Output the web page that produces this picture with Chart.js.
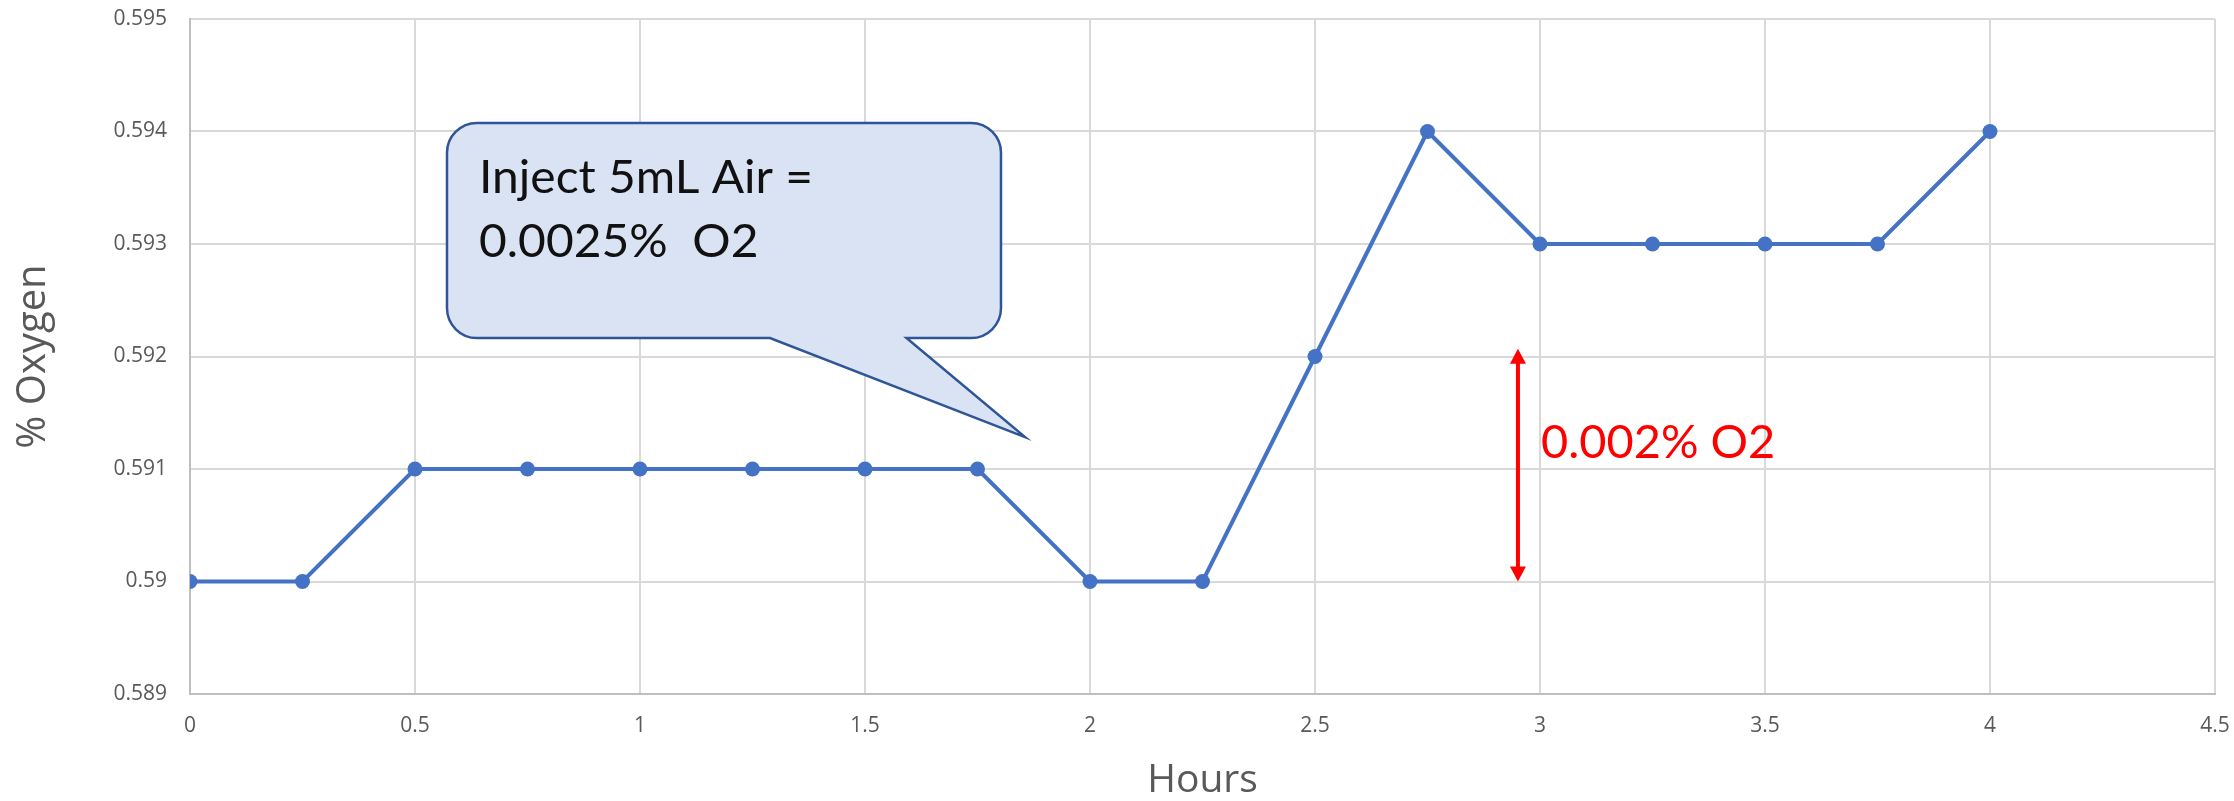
<!DOCTYPE html>
<html>
<head>
<meta charset="utf-8">
<script src="https://cdn.jsdelivr.net/npm/chart.js@4.4.1/dist/chart.umd.min.js"></script>
<style>
  html, body { margin: 0; padding: 0; background: #ffffff; }
  #wrap { width: 2234px; height: 801px; position: relative; }
</style>
</head>
<body>
<div id="wrap"><canvas id="chart"></canvas></div>
<script>
// Oxygen readings every quarter hour
const hours  = [0, 0.25, 0.5, 0.75, 1, 1.25, 1.5, 1.75, 2, 2.25, 2.5, 2.75, 3, 3.25, 3.5, 3.75, 4];
const oxygen = [0.590, 0.590, 0.591, 0.591, 0.591, 0.591, 0.591, 0.591, 0.590, 0.590, 0.592, 0.594, 0.593, 0.593, 0.593, 0.593, 0.594];

// Axis ranges / tick steps
const xRange = [0, 4.5];
const xStep = 0.5;
const yRange = [0.589, 0.595];
const yStep = 0.001;

// Annotations (data units)
const calloutLines = ['Inject 5mL Air =', '0.0025%  O2'];
const calloutBox = { x0: 0.5711, x1: 1.8022, y0: 0.594076, y1: 0.592164 };
const calloutTail = { baseLeft: 1.2889, baseRight: 1.5922, tipX: 1.8556, tipY: 0.591284 };
const spanLabel = '0.002% O2';
const spanAt = { x: 2.951, from: 0.5900, to: 0.59207 };

// Draws text with a horizontal scale factor
function scaledText(ctx, text, x, y, sx) {
  ctx.save();
  ctx.translate(x, y);
  ctx.scale(sx, 1);
  ctx.fillText(text, 0, 0);
  ctx.restore();
}

const annotations = {
  id: 'annotations',
  afterDatasetsDraw(chart) {
    const { ctx, scales: { x, y } } = chart;
    ctx.save();

    // Speech-bubble callout
    const L = x.getPixelForValue(calloutBox.x0), R = x.getPixelForValue(calloutBox.x1);
    const T = y.getPixelForValue(calloutBox.y0), B = y.getPixelForValue(calloutBox.y1);
    const bl = x.getPixelForValue(calloutTail.baseLeft), br = x.getPixelForValue(calloutTail.baseRight);
    const tx = x.getPixelForValue(calloutTail.tipX), ty = y.getPixelForValue(calloutTail.tipY);
    const r = 30;
    ctx.beginPath();
    ctx.moveTo(L + r, T);
    ctx.lineTo(R - r, T);
    ctx.arcTo(R, T, R, T + r, r);
    ctx.lineTo(R, B - r);
    ctx.arcTo(R, B, R - r, B, r);
    ctx.lineTo(br, B);
    ctx.lineTo(tx, ty);
    ctx.lineTo(bl, B);
    ctx.lineTo(L + r, B);
    ctx.arcTo(L, B, L, B - r, r);
    ctx.lineTo(L, T + r);
    ctx.arcTo(L, T, L + r, T, r);
    ctx.closePath();
    ctx.fillStyle = '#dae3f3';
    ctx.fill();
    ctx.lineWidth = 2.5;
    ctx.strokeStyle = '#2f5597';
    ctx.lineJoin = 'miter';
    ctx.stroke();

    ctx.fillStyle = '#111111';
    ctx.font = '47px Lato';
    ctx.textAlign = 'left';
    ctx.textBaseline = 'alphabetic';
    calloutLines.forEach((t, i) => scaledText(ctx, t, L + 32, T + 70 + i * 64, 1.02));

    // Red double-headed arrow with its label
    const ax = x.getPixelForValue(spanAt.x);
    const aTop = y.getPixelForValue(spanAt.to), aBot = y.getPixelForValue(spanAt.from);
    const head = 15, half = 8;
    ctx.strokeStyle = '#ff0000';
    ctx.fillStyle = '#ff0000';
    ctx.lineWidth = 4;
    ctx.beginPath();
    ctx.moveTo(ax, aTop + head - 2);
    ctx.lineTo(ax, aBot - head + 2);
    ctx.stroke();
    ctx.beginPath();
    ctx.moveTo(ax, aTop); ctx.lineTo(ax - half, aTop + head); ctx.lineTo(ax + half, aTop + head); ctx.closePath();
    ctx.fill();
    ctx.beginPath();
    ctx.moveTo(ax, aBot); ctx.lineTo(ax - half, aBot - head); ctx.lineTo(ax + half, aBot - head); ctx.closePath();
    ctx.fill();

    ctx.font = '46px Lato';
    scaledText(ctx, spanLabel, ax + 23, (aTop + aBot) / 2 - 7, 1.02);
    ctx.restore();
  }
};

const gridColor = '#d9d9d9';
const axisColor = '#bfbfbf';
const textColor = '#595959';

new Chart(document.getElementById('chart'), {
  type: 'line',
  data: {
    datasets: [{
      data: hours.map((h, i) => ({ x: h, y: oxygen[i] })),
      borderColor: '#4472c4',
      backgroundColor: '#4472c4',
      borderWidth: 4,
      pointRadius: 7.5,
      pointHoverRadius: 7.5,
      pointBorderWidth: 0,
      tension: 0,
      fill: false
    }]
  },
  options: {
    responsive: true,
    maintainAspectRatio: false,
    animation: false,
    devicePixelRatio: 1,
    layout: { padding: { top: 19, right: 19, bottom: 0, left: 0 } },
    plugins: { legend: { display: false }, tooltip: { enabled: false } },
    scales: {
      x: {
        type: 'linear',
        min: xRange[0],
        max: xRange[1],
        afterFit(scale) {
          scale.height = 107;
          scale.paddingLeft = 0;
          scale.paddingRight = 0;
        },
        ticks: {
          stepSize: xStep,
          padding: 19,
          color: textColor,
          font: { family: 'Open Sans', size: 21 },
          maxRotation: 0,
          callback: v => String(+v.toFixed(2))
        },
        grid: { color: gridColor, lineWidth: 2, drawTicks: false },
        border: { color: axisColor, width: 2 },
        title: {
          display: true,
          text: 'Hours',
          color: textColor,
          font: { family: 'Open Sans', size: 39, lineHeight: 1 },
          padding: { top: 0, bottom: 1 }
        }
      },
      y: {
        min: yRange[0],
        max: yRange[1],
        afterFit(scale) {
          scale.width = 190;
          scale.paddingTop = 0;
          scale.paddingBottom = 0;
        },
        ticks: {
          stepSize: yStep,
          padding: 23,
          color: textColor,
          font: { family: 'Open Sans', size: 21 },
          callback: v => String(+v.toFixed(3))
        },
        grid: { color: gridColor, lineWidth: 2, drawTicks: false },
        border: { color: axisColor, width: 2 },
        title: {
          display: true,
          text: '% Oxygen',
          color: textColor,
          font: { family: 'Open Sans', size: 40, lineHeight: 1 },
          padding: { top: 14, bottom: 0 }
        }
      }
    }
  },
  plugins: [annotations]
});
</script>
</body>
</html>
